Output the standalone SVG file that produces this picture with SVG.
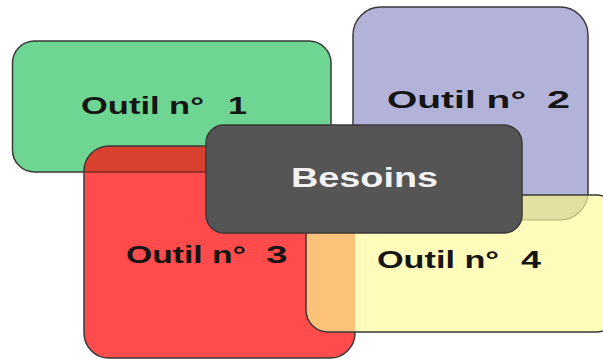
<svg xmlns="http://www.w3.org/2000/svg" xmlns:xlink="http://www.w3.org/1999/xlink" width="603" height="362" viewBox="0 0 603 362">
<style>
.box{stroke:#3a3a3a;stroke-width:1.5}
.lbl{font-family:"Liberation Sans",Arial,sans-serif;font-weight:bold;font-size:23px;fill:#151515}
.main{font-family:"Liberation Sans",Arial,sans-serif;font-weight:bold;font-size:28px;fill:#f2f2f2}
</style>
<defs>
<rect id="rG" x="12.5" y="41" width="318.5" height="131" rx="22"/>
<rect id="rP" x="353" y="7" width="235" height="213" rx="28"/>
<rect id="rR" x="84" y="146" width="271" height="212" rx="25"/>
<rect id="rY" x="306" y="195" width="312" height="137" rx="22"/>
<clipPath id="cR"><use xlink:href="#rR"/></clipPath>
<clipPath id="cY"><use xlink:href="#rY"/></clipPath>
</defs>
<g id="outil1">
<use xlink:href="#rG" class="box" fill="#6fd592"/>
<text class="lbl" y="114"><tspan x="81" textLength="123" lengthAdjust="spacingAndGlyphs">Outil n°</tspan><tspan x="228" textLength="19" lengthAdjust="spacingAndGlyphs">1</tspan></text>
</g>
<g id="outil2">
<use xlink:href="#rP" class="box" fill="#b3b3da"/>
<text class="lbl" y="108"><tspan x="387" textLength="139" lengthAdjust="spacingAndGlyphs">Outil n°</tspan><tspan x="547" textLength="23" lengthAdjust="spacingAndGlyphs">2</tspan></text>
</g>
<g id="outil3">
<use xlink:href="#rR" fill="#ff4b4b"/>
<use xlink:href="#rG" clip-path="url(#cR)" fill="#d8402f" stroke="#7a2a20" stroke-width="1.5"/>
<use xlink:href="#rR" class="box" fill="none"/>
<text class="lbl" y="263"><tspan x="126" textLength="120" lengthAdjust="spacingAndGlyphs">Outil n°</tspan><tspan x="266" textLength="21.5" lengthAdjust="spacingAndGlyphs">3</tspan></text>
</g>
<g id="outil4">
<use xlink:href="#rY" fill="#fffbba"/>
<use xlink:href="#rR" clip-path="url(#cY)" fill="#fdc27a"/>
<use xlink:href="#rP" clip-path="url(#cY)" fill="#e3e0a2" stroke="#b8b47a" stroke-width="1.2"/>
<use xlink:href="#rY" class="box" fill="none"/>
<text class="lbl" y="268"><tspan x="377" textLength="122" lengthAdjust="spacingAndGlyphs">Outil n°</tspan><tspan x="521" textLength="20" lengthAdjust="spacingAndGlyphs">4</tspan></text>
</g>
<g id="besoins">
<rect class="box" x="206" y="125" width="316" height="108" rx="18" fill="#555555"/>
<text class="main" x="291" y="187" textLength="147" lengthAdjust="spacingAndGlyphs">Besoins</text>
</g>
<g id="connectors"/>
</svg>
